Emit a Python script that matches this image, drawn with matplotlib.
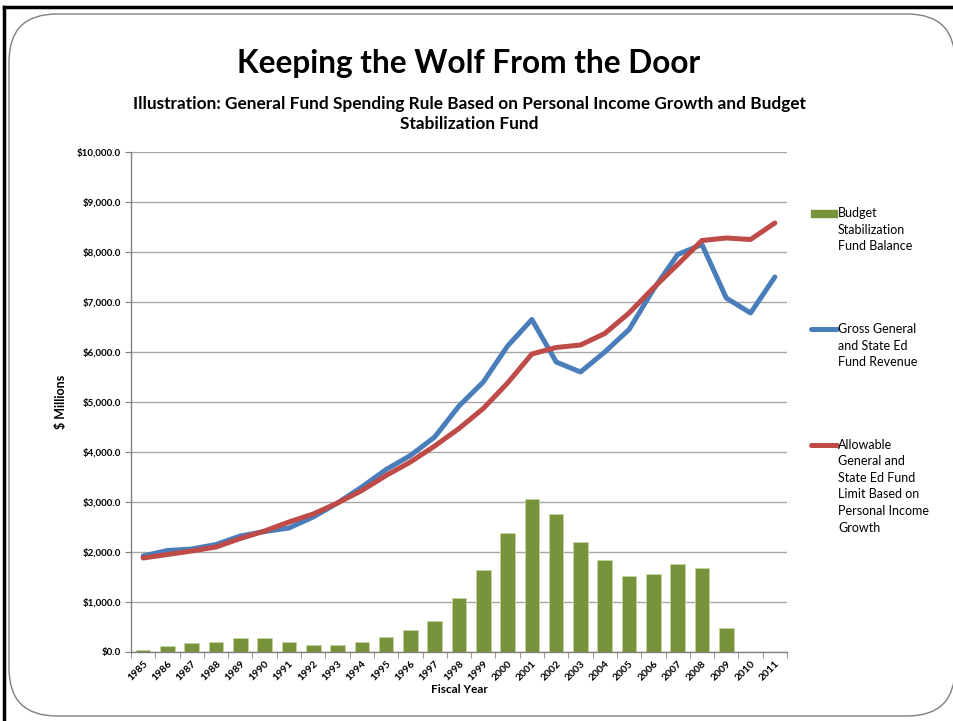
import matplotlib
matplotlib.use("Agg")
import matplotlib.pyplot as plt
from matplotlib.patches import FancyBboxPatch
from matplotlib.lines import Line2D
from matplotlib.patches import Rectangle
import numpy as np

plt.rcParams['font.family'] = ['Lato', 'DejaVu Sans']

years = [str(y) for y in range(1985, 2012)]
bsf_balance = [50, 130, 180, 210, 272, 272, 192, 146, 139, 199, 298, 437, 629, 1087,
               1633, 2373, 3053, 2753, 2200, 1833, 1513, 1553, 1753, 1673, 480, 0, 0]
gross_revenue = [1920, 2030, 2060, 2150, 2320, 2410, 2480, 2700, 2980, 3300, 3650, 3930,
                 4300, 4920, 5400, 6120, 6650, 5800, 5600, 6000, 6450, 7250, 7950, 8150,
                 7080, 6780, 7500]
allowable_limit = [1880, 1950, 2020, 2100, 2270, 2420, 2600, 2760, 2980, 3230, 3530, 3800,
                   4120, 4470, 4870, 5380, 5960, 6090, 6140, 6370, 6780, 7280, 7750, 8230,
                   8280, 8250, 8580]
yticks = [0, 1000, 2000, 3000, 4000, 5000, 6000, 7000, 8000, 9000, 10000]

legend_labels = ["Budget\nStabilization\nFund Balance",
                 "Gross General\nand State Ed\nFund Revenue",
                 "Allowable\nGeneral and\nState Ed Fund\nLimit Based on\nPersonal Income\nGrowth"]

GREEN = '#77933C'
BLUE = '#4A7EBB'
RED = '#BE4B48'
GRID = '#A6A6A6'

W, H = 954, 721
fig = plt.figure(figsize=(W / 100, H / 100), dpi=100)

# outer black border (left/top)
fig.add_artist(Line2D([4 / W, 4 / W], [0, 1 - 7 / H], color='black', lw=2.5,
                      transform=fig.transFigure, zorder=-5))
fig.add_artist(Line2D([4 / W, 1], [1 - 7 / H, 1 - 7 / H], color='black', lw=2.5,
                      transform=fig.transFigure, zorder=-5))
# rounded frame
frame = FancyBboxPatch((9 / W, 5 / H), (955 - 9) / W, (707 - 5) / H,
                       boxstyle="round,pad=0,rounding_size=0.05",
                       transform=fig.transFigure, facecolor='white',
                       edgecolor='#7F7F7F', lw=1.0, mutation_aspect=W / H, zorder=-4)
fig.add_artist(frame)

ax = fig.add_axes([131 / W, 1 - 652 / H, (787 - 131) / W, (652 - 152) / H])
ax.set_facecolor('none')
x = np.arange(len(years))

ax.bar(x, bsf_balance, width=0.6, color=GREEN, edgecolor='#C4D79B', linewidth=0.6,
       zorder=2)
ax.plot(x, gross_revenue, color=BLUE, lw=3.6, zorder=3, solid_capstyle='round')
ax.plot(x, allowable_limit, color=RED, lw=3.6, zorder=4, solid_capstyle='round')

ax.set_xlim(-0.5, len(years) - 0.5)
ax.set_ylim(0, 10000)
ax.set_yticks(yticks)
ax.set_yticklabels(['${:,.1f}'.format(v) for v in yticks], fontsize=7,
                   fontweight='bold')
ax.yaxis.grid(True, color=GRID, lw=1.0, zorder=0)
ax.set_axisbelow(True)

ax.set_xticks(x)
ax.set_xticklabels(years, rotation=45, ha='right', rotation_mode='anchor',
                   fontsize=7.5, fontweight='bold')
ax.tick_params(axis='x', which='major', length=0, pad=5)
ax.set_xticks(np.arange(-0.5, len(years)), minor=True)
ax.tick_params(axis='x', which='minor', length=4, color='#808080', direction='out')
ax.tick_params(axis='y', length=4, color='#808080', pad=3)

for s in ['top', 'right']:
    ax.spines[s].set_visible(False)
for s in ['left', 'bottom']:
    ax.spines[s].set_color('#808080')
    ax.spines[s].set_linewidth(1.0)

ax.set_xlabel('Fiscal Year', fontsize=8.5, fontweight='bold', labelpad=1)
ax.set_ylabel('$ Millions', fontsize=9, fontweight='bold', labelpad=7)

fig.text(469 / W, 1 - 64 / H, 'Keeping the Wolf From the Door', ha='center',
         va='center', fontsize=22.8, fontweight='bold')
fig.text(469 / W, 1 - 114 / H,
         'Illustration: General Fund Spending Rule Based on Personal Income Growth and Budget\nStabilization Fund',
         ha='center', va='center', fontsize=12.4, fontweight='bold', linespacing=1.3)

# legend (manual)
tops = [207, 323, 439]
handles = ['bar', 'line', 'line']
colors = [GREEN, BLUE, RED]
for top, kind, col, lab in zip(tops, handles, colors, legend_labels):
    yc = 1 - (top + 6) / H
    if kind == 'bar':
        fig.add_artist(Rectangle((811 / W, yc - 3.5 / H), 26 / W, 7 / H, color=col,
                                 transform=fig.transFigure))
    else:
        fig.add_artist(Line2D([811 / W, 837 / W], [yc, yc], color=col, lw=3.6,
                              solid_capstyle='round', transform=fig.transFigure))
    fig.text(838 / W, 1 - top / H, lab, ha='left', va='top', fontsize=9,
             linespacing=1.45)

fig.savefig('out.png', dpi=100)
